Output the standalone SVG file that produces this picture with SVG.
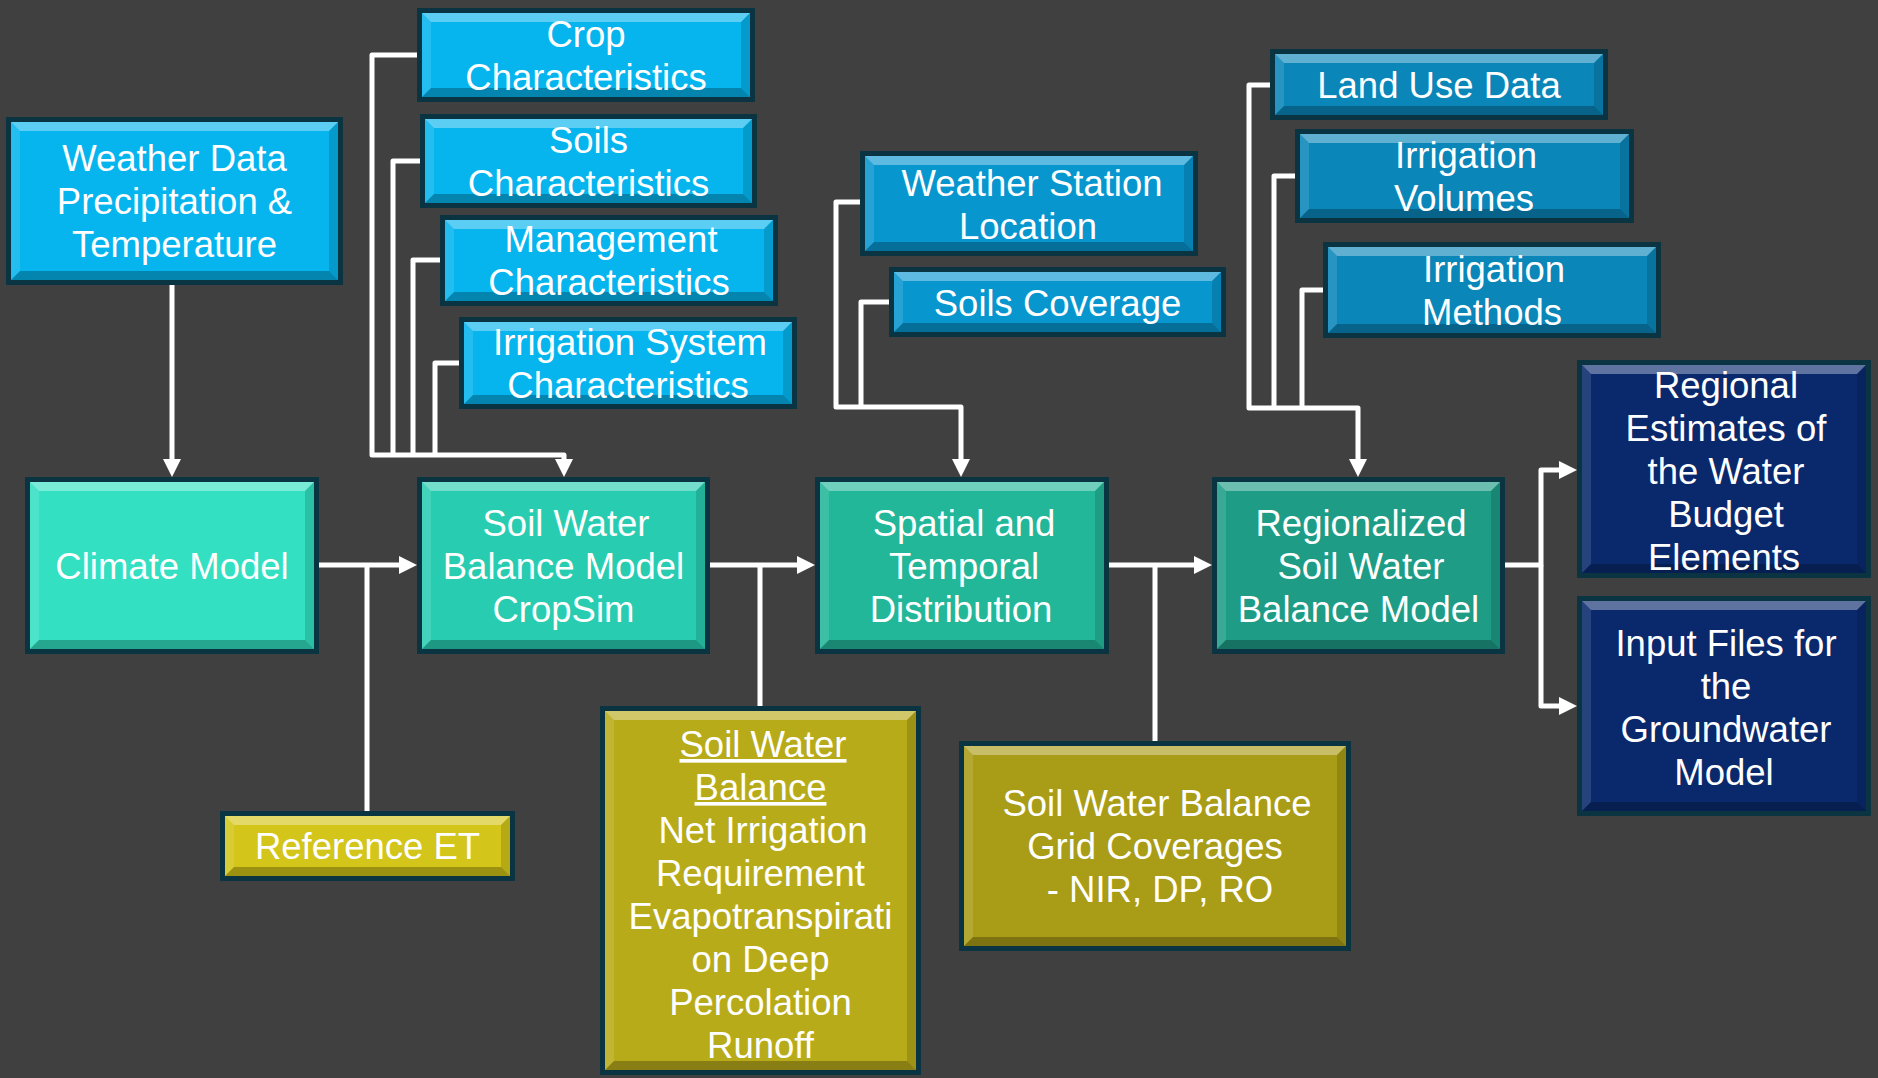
<svg xmlns="http://www.w3.org/2000/svg" width="1878" height="1078" viewBox="0 0 1878 1078">
<defs>
<style>
.bd{fill:#0b3442}
.bt{fill:#fff;fill-opacity:.35}
.bl{fill:#fff;fill-opacity:.12}
.br{fill:#000;fill-opacity:.14}
.bb{fill:#000;fill-opacity:.26}
.lb .fc{fill:#06b4ee}
.mb .fc{fill:#0896cf}
.db .fc{fill:#0a86b9}
.t1 .fc{fill:#33e0c2}
.t2 .fc{fill:#28cdb1}
.t3 .fc{fill:#23b79a}
.t4 .fc{fill:#1e9c86}
.y1 .fc{fill:#d3c519}
.y2 .fc{fill:#b8ab1a}
.y3 .fc{fill:#a99c16}
.nv .fc{fill:#0a296d}
text{font-family:"Liberation Sans",Arial,sans-serif;font-size:36.5px;fill:#fff;text-anchor:middle}
.cn path{fill:none;stroke:#fff;stroke-width:5;stroke-linejoin:round}
</style>
<marker id="ah" markerUnits="userSpaceOnUse" markerWidth="18" markerHeight="18" viewBox="0 0 18 18" refX="3" refY="9" orient="auto">
<path d="M0,0 L18,9 L0,18 z" fill="#fff"/>
</marker>
</defs>
<rect width="1878" height="1078" fill="#404040"/>

<g id="connectors" class="cn">
<path d="M172,285 V462" marker-end="url(#ah)"/>
<path d="M417,55 H372 V455 H564 V462" marker-end="url(#ah)"/>
<path d="M420,161 H393 V455"/>
<path d="M440,260 H413 V455"/>
<path d="M459,363 H435 V455"/>
<path d="M319,565 H402" marker-end="url(#ah)"/>
<path d="M367,811 V565"/>
<path d="M710,565 H800" marker-end="url(#ah)"/>
<path d="M760,706 V565"/>
<path d="M1109,565 H1197" marker-end="url(#ah)"/>
<path d="M1155,741 V565"/>
<path d="M860,202 H836 V407 H961 V462" marker-end="url(#ah)"/>
<path d="M889,302 H861 V407"/>
<path d="M1270,85 H1249 V408 H1358 V462" marker-end="url(#ah)"/>
<path d="M1295,176 H1274 V408"/>
<path d="M1323,290 H1302 V408"/>
<path d="M1505,565 H1541 V470 H1562" marker-end="url(#ah)"/>
<path d="M1541,565 V706 H1562" marker-end="url(#ah)"/>
</g>

<g id="weather-data" class="lb">
<rect class="bd" x="6" y="117" width="337" height="168"/>
<rect class="fc" x="11" y="122" width="327" height="158"/>
<path class="bt" d="M11,122 h327 l-9,9 h-309 z"/>
<path class="bl" d="M11,122 l9,9 v140 l-9,9 z"/>
<path class="br" d="M338,122 v158 l-9,-9 v-140 z"/>
<path class="bb" d="M11,280 h327 l-9,-9 h-309 z"/>
<text><tspan x="174.5" y="171">Weather Data</tspan><tspan x="174.5" y="214">Precipitation &amp;</tspan><tspan x="174.5" y="257">Temperature</tspan></text>
</g>

<g id="crop" class="lb">
<rect class="bd" x="417" y="8" width="338" height="94"/>
<rect class="fc" x="422" y="13" width="328" height="84"/>
<path class="bt" d="M422,13 h328 l-9,9 h-310 z"/>
<path class="bl" d="M422,13 l9,9 v66 l-9,9 z"/>
<path class="br" d="M750,13 v84 l-9,-9 v-66 z"/>
<path class="bb" d="M422,97 h328 l-9,-9 h-310 z"/>
<text><tspan x="586" y="47">Crop</tspan><tspan x="586" y="90">Characteristics</tspan></text>
</g>

<g id="soils-char" class="lb">
<rect class="bd" x="420" y="114" width="337" height="94"/>
<rect class="fc" x="425" y="119" width="327" height="84"/>
<path class="bt" d="M425,119 h327 l-9,9 h-309 z"/>
<path class="bl" d="M425,119 l9,9 v66 l-9,9 z"/>
<path class="br" d="M752,119 v84 l-9,-9 v-66 z"/>
<path class="bb" d="M425,203 h327 l-9,-9 h-309 z"/>
<text><tspan x="588.5" y="152.5">Soils</tspan><tspan x="588.5" y="195.5">Characteristics</tspan></text>
</g>

<g id="management" class="lb">
<rect class="bd" x="440" y="215" width="338" height="91"/>
<rect class="fc" x="445" y="220" width="328" height="81"/>
<path class="bt" d="M445,220 h328 l-9,9 h-310 z"/>
<path class="bl" d="M445,220 l9,9 v63 l-9,9 z"/>
<path class="br" d="M773,220 v81 l-9,-9 v-63 z"/>
<path class="bb" d="M445,301 h328 l-9,-9 h-310 z"/>
<text><tspan x="611" y="252">Management</tspan><tspan x="609" y="295">Characteristics</tspan></text>
</g>

<g id="irrigation-system" class="lb">
<rect class="bd" x="459" y="317" width="338" height="92"/>
<rect class="fc" x="464" y="322" width="328" height="82"/>
<path class="bt" d="M464,322 h328 l-9,9 h-310 z"/>
<path class="bl" d="M464,322 l9,9 v64 l-9,9 z"/>
<path class="br" d="M792,322 v82 l-9,-9 v-64 z"/>
<path class="bb" d="M464,404 h328 l-9,-9 h-310 z"/>
<text><tspan x="630" y="354.5">Irrigation System</tspan><tspan x="628" y="397.5">Characteristics</tspan></text>
</g>

<g id="climate-model" class="t1">
<rect class="bd" x="25" y="477" width="294" height="177"/>
<rect class="fc" x="30" y="482" width="284" height="167"/>
<path class="bt" d="M30,482 h284 l-9,9 h-266 z"/>
<path class="bl" d="M30,482 l9,9 v149 l-9,9 z"/>
<path class="br" d="M314,482 v167 l-9,-9 v-149 z"/>
<path class="bb" d="M30,649 h284 l-9,-9 h-266 z"/>
<text x="172" y="578.5">Climate Model</text>
</g>

<g id="soil-water-balance-model" class="t2">
<rect class="bd" x="417" y="477" width="293" height="177"/>
<rect class="fc" x="422" y="482" width="283" height="167"/>
<path class="bt" d="M422,482 h283 l-9,9 h-265 z"/>
<path class="bl" d="M422,482 l9,9 v149 l-9,9 z"/>
<path class="br" d="M705,482 v167 l-9,-9 v-149 z"/>
<path class="bb" d="M422,649 h283 l-9,-9 h-265 z"/>
<text><tspan x="566" y="535.5">Soil Water</tspan><tspan x="563.5" y="578.5">Balance Model</tspan><tspan x="563.5" y="621.5">CropSim</tspan></text>
</g>

<g id="spatial-temporal" class="t3">
<rect class="bd" x="815" y="477" width="294" height="177"/>
<rect class="fc" x="820" y="482" width="284" height="167"/>
<path class="bt" d="M820,482 h284 l-9,9 h-266 z"/>
<path class="bl" d="M820,482 l9,9 v149 l-9,9 z"/>
<path class="br" d="M1104,482 v167 l-9,-9 v-149 z"/>
<path class="bb" d="M820,649 h284 l-9,-9 h-266 z"/>
<text><tspan x="964" y="535.5">Spatial and</tspan><tspan x="964" y="578.5">Temporal</tspan><tspan x="961" y="621.5">Distribution</tspan></text>
</g>

<g id="regionalized" class="t4">
<rect class="bd" x="1212" y="477" width="293" height="177"/>
<rect class="fc" x="1217" y="482" width="283" height="167"/>
<path class="bt" d="M1217,482 h283 l-9,9 h-265 z"/>
<path class="bl" d="M1217,482 l9,9 v149 l-9,9 z"/>
<path class="br" d="M1500,482 v167 l-9,-9 v-149 z"/>
<path class="bb" d="M1217,649 h283 l-9,-9 h-265 z"/>
<text><tspan x="1361" y="535.5">Regionalized</tspan><tspan x="1361" y="578.5">Soil Water</tspan><tspan x="1358.5" y="621.5">Balance Model</tspan></text>
</g>

<g id="reference-et" class="y1">
<rect class="bd" x="220" y="811" width="295" height="70"/>
<rect class="fc" x="225" y="816" width="285" height="60"/>
<path class="bt" d="M225,816 h285 l-9,9 h-267 z"/>
<path class="bl" d="M225,816 l9,9 v42 l-9,9 z"/>
<path class="br" d="M510,816 v60 l-9,-9 v-42 z"/>
<path class="bb" d="M225,876 h285 l-9,-9 h-267 z"/>
<text x="367.5" y="859">Reference ET</text>
</g>

<g id="soil-water-balance-outputs" class="y2">
<rect class="bd" x="600" y="706" width="321" height="369"/>
<rect class="fc" x="605" y="711" width="311" height="359"/>
<path class="bt" d="M605,711 h311 l-9,9 h-293 z"/>
<path class="bl" d="M605,711 l9,9 v341 l-9,9 z"/>
<path class="br" d="M916,711 v359 l-9,-9 v-341 z"/>
<path class="bb" d="M605,1070 h311 l-9,-9 h-293 z"/>
<text><tspan x="763" y="757" text-decoration="underline">Soil Water</tspan><tspan x="760.5" y="800" text-decoration="underline">Balance</tspan><tspan x="763" y="843">Net Irrigation</tspan><tspan x="760.5" y="886">Requirement</tspan><tspan x="760.5" y="929">Evapotranspirati</tspan><tspan x="760.5" y="972">on Deep</tspan><tspan x="760.5" y="1015">Percolation</tspan><tspan x="760.5" y="1058">Runoff</tspan></text>
</g>

<g id="grid-coverages" class="y3">
<rect class="bd" x="959" y="741" width="392" height="210"/>
<rect class="fc" x="964" y="746" width="382" height="200"/>
<path class="bt" d="M964,746 h382 l-9,9 h-364 z"/>
<path class="bl" d="M964,746 l9,9 v182 l-9,9 z"/>
<path class="br" d="M1346,746 v200 l-9,-9 v-182 z"/>
<path class="bb" d="M964,946 h382 l-9,-9 h-364 z"/>
<text><tspan x="1157" y="816">Soil Water Balance</tspan><tspan x="1155" y="859">Grid Coverages</tspan><tspan x="1160" y="902">- NIR, DP, RO</tspan></text>
</g>

<g id="regional-estimates" class="nv">
<rect class="bd" x="1577" y="360" width="294" height="218"/>
<rect class="fc" x="1582" y="365" width="284" height="208"/>
<path class="bt" d="M1582,365 h284 l-9,9 h-266 z"/>
<path class="bl" d="M1582,365 l9,9 v190 l-9,9 z"/>
<path class="br" d="M1866,365 v208 l-9,-9 v-190 z"/>
<path class="bb" d="M1582,573 h284 l-9,-9 h-266 z"/>
<text><tspan x="1726" y="398">Regional</tspan><tspan x="1726" y="441">Estimates of</tspan><tspan x="1726" y="484">the Water</tspan><tspan x="1726" y="527">Budget</tspan><tspan x="1724" y="570">Elements</tspan></text>
</g>

<g id="input-files" class="nv">
<rect class="bd" x="1577" y="596" width="294" height="220"/>
<rect class="fc" x="1582" y="601" width="284" height="210"/>
<path class="bt" d="M1582,601 h284 l-9,9 h-266 z"/>
<path class="bl" d="M1582,601 l9,9 v192 l-9,9 z"/>
<path class="br" d="M1866,601 v210 l-9,-9 v-192 z"/>
<path class="bb" d="M1582,811 h284 l-9,-9 h-266 z"/>
<text><tspan x="1726" y="655.5">Input Files for</tspan><tspan x="1726" y="698.5">the</tspan><tspan x="1726" y="741.5">Groundwater</tspan><tspan x="1724" y="784.5">Model</tspan></text>
</g>

<g id="weather-station" class="mb">
<rect class="bd" x="860" y="151" width="338" height="105"/>
<rect class="fc" x="865" y="156" width="328" height="95"/>
<path class="bt" d="M865,156 h328 l-9,9 h-310 z"/>
<path class="bl" d="M865,156 l9,9 v77 l-9,9 z"/>
<path class="br" d="M1193,156 v95 l-9,-9 v-77 z"/>
<path class="bb" d="M865,251 h328 l-9,-9 h-310 z"/>
<text><tspan x="1032" y="196">Weather Station</tspan><tspan x="1028" y="239">Location</tspan></text>
</g>

<g id="soils-coverage" class="mb">
<rect class="bd" x="889" y="267" width="337" height="70"/>
<rect class="fc" x="894" y="272" width="327" height="60"/>
<path class="bt" d="M894,272 h327 l-9,9 h-309 z"/>
<path class="bl" d="M894,272 l9,9 v42 l-9,9 z"/>
<path class="br" d="M1221,272 v60 l-9,-9 v-42 z"/>
<path class="bb" d="M894,332 h327 l-9,-9 h-309 z"/>
<text x="1057.5" y="316">Soils Coverage</text>
</g>

<g id="land-use" class="db">
<rect class="bd" x="1270" y="49" width="338" height="71"/>
<rect class="fc" x="1275" y="54" width="328" height="61"/>
<path class="bt" d="M1275,54 h328 l-9,9 h-310 z"/>
<path class="bl" d="M1275,54 l9,9 v43 l-9,9 z"/>
<path class="br" d="M1603,54 v61 l-9,-9 v-43 z"/>
<path class="bb" d="M1275,115 h328 l-9,-9 h-310 z"/>
<text x="1439" y="98">Land Use Data</text>
</g>

<g id="irrigation-volumes" class="db">
<rect class="bd" x="1295" y="129" width="339" height="94"/>
<rect class="fc" x="1300" y="134" width="329" height="84"/>
<path class="bt" d="M1300,134 h329 l-9,9 h-311 z"/>
<path class="bl" d="M1300,134 l9,9 v66 l-9,9 z"/>
<path class="br" d="M1629,134 v84 l-9,-9 v-66 z"/>
<path class="bb" d="M1300,218 h329 l-9,-9 h-311 z"/>
<text><tspan x="1466" y="168">Irrigation</tspan><tspan x="1464" y="211">Volumes</tspan></text>
</g>

<g id="irrigation-methods" class="db">
<rect class="bd" x="1323" y="242" width="338" height="96"/>
<rect class="fc" x="1328" y="247" width="328" height="86"/>
<path class="bt" d="M1328,247 h328 l-9,9 h-310 z"/>
<path class="bl" d="M1328,247 l9,9 v68 l-9,9 z"/>
<path class="br" d="M1656,247 v86 l-9,-9 v-68 z"/>
<path class="bb" d="M1328,333 h328 l-9,-9 h-310 z"/>
<text><tspan x="1494" y="282">Irrigation</tspan><tspan x="1492" y="325">Methods</tspan></text>
</g>
</svg>
